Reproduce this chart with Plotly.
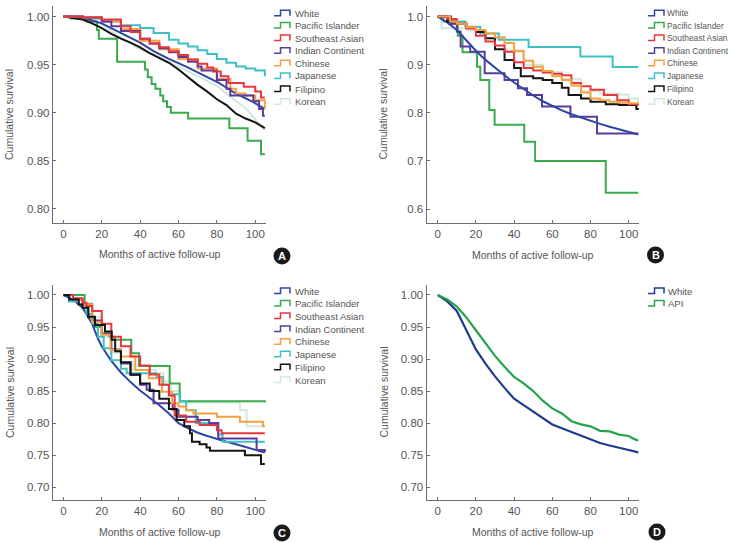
import plotly.graph_objects as go

W, H = 730, 543
FONT = "Liberation Sans, Arial, sans-serif"
GRAY = "#555555"

# ---------------- colours ----------------
C_WHITE = "#2f45a3"
C_PACIFIC = "#3aab4c"
C_SEASIAN = "#e8363f"
C_INDIAN = "#5a3c9f"
C_CHINESE = "#f6a040"
C_JAPANESE = "#3ec0c6"
C_FILIPINO = "#141414"
C_KOREAN = "#cfe9dd"
C_WHITE_D = "#1e3c8e"
C_API = "#25a24e"

LABELS_ETH = ["White", "Pacific Islander", "Southeast Asian", "Indian Continent",
              "Chinese", "Japanese", "Filipino", "Korean"]
LABELS_D = ["White", "API"]
X_TICKS = [0, 20, 40, 60, 80, 100]
A_YTICKS = [0.80, 0.85, 0.90, 0.95, 1.00]
B_YTICKS = [0.6, 0.7, 0.8, 0.9, 1.0]
CD_YTICKS = [0.70, 0.75, 0.80, 0.85, 0.90, 0.95, 1.00]

# ---------------- Panel A ----------------
A_white_m = [0, 10, 20, 30, 40, 47, 55, 64, 70, 75, 81, 85, 90, 95, 99, 105]
A_white_v = [1.0, 0.999, 0.993, 0.983, 0.973, 0.964, 0.956, 0.948, 0.942, 0.937, 0.931, 0.926, 0.920, 0.915, 0.911, 0.904]
A_pacific_m = [0, 4, 12, 17.5, 18.5, 28, 41, 42.5, 44, 46, 48, 50.5, 52, 54, 56, 65, 86.5, 96, 103, 105]
A_pacific_v = [1.0, 0.998, 0.995, 0.986, 0.977, 0.953, 0.953, 0.945, 0.937, 0.930, 0.925, 0.918, 0.912, 0.906, 0.900, 0.894, 0.884, 0.871, 0.857, 0.857]
A_seasian_m = [0, 10, 20, 30, 35, 40, 45, 50, 55, 60, 65, 70, 75, 78, 82, 86, 94, 100, 103, 105]
A_seasian_v = [1.0, 0.999, 0.997, 0.990, 0.984, 0.977, 0.972, 0.968, 0.964, 0.960, 0.955, 0.951, 0.947, 0.943, 0.938, 0.931, 0.927, 0.922, 0.916, 0.916]
A_indian_m = [0, 10, 20, 25, 30, 40, 45, 50, 55, 60, 65, 70, 72, 80, 85, 87, 95, 99, 102, 104, 105]
A_indian_v = [1.0, 0.999, 0.995, 0.990, 0.985, 0.977, 0.972, 0.967, 0.963, 0.958, 0.953, 0.948, 0.944, 0.934, 0.925, 0.918, 0.918, 0.912, 0.904, 0.897, 0.897]
A_chinese_m = [0, 10, 20, 30, 40, 50, 60, 70, 80, 87, 90, 95, 100, 105]
A_chinese_v = [1.0, 0.999, 0.995, 0.987, 0.975, 0.966, 0.956, 0.946, 0.935, 0.925, 0.920, 0.918, 0.913, 0.904]
A_japanese_m = [0, 10, 20, 30, 40, 47, 55, 60, 65, 70, 75, 80, 85, 90, 95, 100, 105]
A_japanese_v = [1.0, 0.998, 0.995, 0.991, 0.988, 0.983, 0.976, 0.972, 0.969, 0.965, 0.961, 0.956, 0.952, 0.948, 0.946, 0.944, 0.938]
A_filipino_m = [0, 10, 15, 20, 25, 30, 35, 40, 45, 50, 55, 60, 65, 70, 75, 80, 85, 90, 95, 100, 105]
A_filipino_v = [1.0, 0.997, 0.993, 0.988, 0.982, 0.977, 0.973, 0.968, 0.962, 0.957, 0.952, 0.945, 0.937, 0.929, 0.922, 0.914, 0.908, 0.899, 0.894, 0.890, 0.884]
A_korean_m = [0, 10, 20, 30, 40, 50, 60, 70, 80, 90, 95, 100, 105]
A_korean_v = [1.0, 0.998, 0.992, 0.978, 0.966, 0.958, 0.948, 0.938, 0.928, 0.912, 0.905, 0.893, 0.882]

# ---------------- Panel B ----------------
B_white_m = [0, 5, 10, 15, 20, 25, 30, 35, 40, 45, 50, 55, 60, 65, 70, 75, 80, 85, 90, 95, 100, 105]
B_white_v = [1.0, 0.988, 0.972, 0.950, 0.929, 0.910, 0.893, 0.878, 0.863, 0.849, 0.836, 0.824, 0.814, 0.805, 0.797, 0.790, 0.784, 0.777, 0.771, 0.766, 0.761, 0.755]
B_pacific_m = [0, 6, 10.5, 13, 20.6, 22.3, 27, 29.8, 45.3, 51, 88, 105]
B_pacific_v = [1.0, 0.985, 0.960, 0.926, 0.896, 0.868, 0.806, 0.775, 0.740, 0.700, 0.634, 0.634]
B_seasian_m = [0, 5, 10, 15, 20, 25, 30, 35, 40, 45, 50, 55, 60, 65, 70, 75, 80, 87, 94, 100, 105]
B_seasian_v = [1.0, 0.995, 0.985, 0.975, 0.960, 0.948, 0.940, 0.927, 0.905, 0.893, 0.888, 0.884, 0.881, 0.878, 0.862, 0.855, 0.848, 0.837, 0.826, 0.818, 0.815]
B_indian_m = [0, 7, 10, 12, 17, 24.6, 35, 42, 46.8, 54.6, 69.5, 83.4, 105]
B_indian_v = [1.0, 0.985, 0.969, 0.938, 0.927, 0.882, 0.868, 0.851, 0.837, 0.813, 0.792, 0.757, 0.757]
B_chinese_m = [0, 6.5, 10, 15, 20, 25, 30, 35, 40, 45, 50, 55, 60, 65, 70, 75, 80, 85, 90, 95, 100, 105]
B_chinese_v = [1.0, 0.990, 0.985, 0.978, 0.972, 0.965, 0.957, 0.945, 0.928, 0.908, 0.896, 0.887, 0.876, 0.868, 0.857, 0.842, 0.830, 0.826, 0.823, 0.821, 0.820, 0.820]
B_japanese_m = [0, 3, 14.5, 22.3, 32, 47.6, 74.7, 91.6, 105]
B_japanese_v = [1.0, 0.990, 0.979, 0.965, 0.952, 0.937, 0.917, 0.895, 0.895]
B_filipino_m = [0, 5, 10, 15, 20, 25, 30, 35, 40, 43.5, 50, 55, 60, 65, 68.5, 75, 80, 88, 95, 104, 105]
B_filipino_v = [1.0, 0.990, 0.985, 0.977, 0.968, 0.955, 0.932, 0.910, 0.893, 0.876, 0.872, 0.868, 0.862, 0.852, 0.837, 0.830, 0.823, 0.818, 0.816, 0.808, 0.807]
B_korean_m = [0, 2, 15, 25, 35, 45, 55, 65, 75, 85, 95, 100, 105]
B_korean_v = [1.0, 0.976, 0.972, 0.955, 0.930, 0.900, 0.885, 0.870, 0.845, 0.840, 0.838, 0.830, 0.815]

# ---------------- Panel C ----------------
C_white_m = [0, 5, 10, 13, 15, 18, 20, 23, 25, 30, 35, 40, 45, 50, 55, 60, 65, 70, 75, 80, 85, 90, 95, 100, 105]
C_white_v = [1.0, 0.993, 0.980, 0.965, 0.955, 0.932, 0.920, 0.906, 0.897, 0.879, 0.864, 0.851, 0.840, 0.828, 0.815, 0.800, 0.792, 0.785, 0.780, 0.775, 0.771, 0.767, 0.763, 0.759, 0.754]
C_pacific_m = [0, 11.1, 13, 16, 20, 24, 26.8, 35.4, 39.4, 55.4, 60.6, 105]
C_pacific_v = [1.0, 0.985, 0.965, 0.950, 0.940, 0.935, 0.930, 0.909, 0.889, 0.862, 0.834, 0.832]
C_seasian_m = [0, 5, 10, 12, 15, 20, 25, 30, 35, 40, 45, 50, 55, 58, 64, 71, 80, 82.5, 105]
C_seasian_v = [1.0, 0.995, 0.988, 0.983, 0.975, 0.955, 0.935, 0.920, 0.904, 0.890, 0.876, 0.860, 0.843, 0.812, 0.802, 0.797, 0.789, 0.784, 0.784]
C_indian_m = [0, 5, 10, 15, 20, 25, 30, 35, 40, 43.4, 47, 57, 60, 70, 76, 80.7, 100.7, 105]
C_indian_v = [1.0, 0.993, 0.985, 0.960, 0.940, 0.915, 0.893, 0.875, 0.860, 0.852, 0.831, 0.821, 0.810, 0.805, 0.800, 0.776, 0.758, 0.755]
C_chinese_m = [0, 5, 10, 15, 20, 24.6, 30, 37.5, 44.5, 51.4, 56.6, 60, 64, 67.7, 80, 92, 104, 105]
C_chinese_v = [1.0, 0.993, 0.985, 0.958, 0.938, 0.914, 0.904, 0.883, 0.870, 0.849, 0.831, 0.826, 0.820, 0.815, 0.810, 0.802, 0.795, 0.795]
C_japanese_m = [0, 3, 8, 12, 15, 18, 21, 25, 30, 33, 48.5, 52, 55, 60.8, 64, 69, 80.7, 83, 105]
C_japanese_v = [1.0, 0.990, 0.985, 0.970, 0.955, 0.935, 0.917, 0.898, 0.885, 0.878, 0.872, 0.860, 0.845, 0.834, 0.820, 0.800, 0.782, 0.771, 0.771]
C_filipino_m = [0, 3, 8, 10, 13, 16.5, 21.7, 25.2, 27, 30, 35, 40, 45, 50, 55, 59, 63, 66, 67, 71, 74.6, 76.4, 94.6, 103, 105]
C_filipino_v = [1.0, 0.993, 0.985, 0.980, 0.966, 0.953, 0.943, 0.930, 0.912, 0.895, 0.876, 0.862, 0.850, 0.838, 0.822, 0.805, 0.795, 0.784, 0.771, 0.767, 0.762, 0.757, 0.750, 0.736, 0.736]
C_korean_m = [0, 5, 10, 15, 20, 25, 30, 36.5, 48, 52, 56, 60.8, 92, 95.5, 105]
C_korean_v = [1.0, 0.995, 0.988, 0.965, 0.935, 0.910, 0.895, 0.883, 0.878, 0.865, 0.850, 0.832, 0.820, 0.795, 0.795]

# ---------------- Panel D ----------------
D_months = [0, 5, 10, 15, 20, 25, 30, 35, 40, 45, 50, 55, 60, 65, 70, 75, 80, 85, 90, 95, 100, 103, 105]
D_white_v = [1.0, 0.990, 0.975, 0.945, 0.915, 0.893, 0.873, 0.855, 0.838, 0.828, 0.818, 0.808, 0.798, 0.792, 0.786, 0.780, 0.774, 0.769, 0.765, 0.761, 0.758, 0.756, 0.754]
D_api_v = [1.0, 0.993, 0.982, 0.965, 0.945, 0.925, 0.905, 0.888, 0.872, 0.862, 0.850, 0.835, 0.823, 0.815, 0.803, 0.798, 0.795, 0.788, 0.787, 0.782, 0.780, 0.775, 0.773]

# ---------------- layout helpers (pixel -> paper) ----------------
def px(x):
    return x / W

def py(y):
    return 1 - y / H

panels = {
    "A": dict(x=(53, 266), y=(6, 223), xr=[-5.4, 105.6], yr=[0.7854, 1.011], yt=A_YTICKS, fmt=".2f"),
    "B": dict(x=(426.7, 639), y=(6, 223), xr=[-5.76, 105.4], yr=[0.571, 1.022], yt=B_YTICKS, fmt=".1f"),
    "C": dict(x=(53, 266), y=(285, 500), xr=[-5.4, 105.6], yr=[0.680, 1.0156], yt=CD_YTICKS, fmt=".2f"),
    "D": dict(x=(426.7, 639), y=(285, 500), xr=[-5.76, 105.4], yr=[0.680, 1.0156], yt=CD_YTICKS, fmt=".2f"),
}
axis_ids = {"A": ("x", "y"), "B": ("x2", "y2"), "C": ("x3", "y3"), "D": ("x4", "y4")}

fig = go.Figure()

def add_curve(panel, months, values, color, name, shape="hv", width=2.0):
    xa, ya = axis_ids[panel]
    fig.add_trace(go.Scatter(x=months, y=values, mode="lines", name=name,
                             line=dict(color=color, width=width, shape=shape),
                             xaxis=xa, yaxis=ya, showlegend=False))

eth_colors = [C_WHITE, C_PACIFIC, C_SEASIAN, C_INDIAN, C_CHINESE, C_JAPANESE, C_FILIPINO, C_KOREAN]

# Panel A (Korean first so it sits underneath)
add_curve("A", A_korean_m, A_korean_v, C_KOREAN, "Korean", "linear")
add_curve("A", A_pacific_m, A_pacific_v, C_PACIFIC, "Pacific Islander")
add_curve("A", A_japanese_m, A_japanese_v, C_JAPANESE, "Japanese")
add_curve("A", A_filipino_m, A_filipino_v, C_FILIPINO, "Filipino", "linear")
add_curve("A", A_white_m, A_white_v, C_WHITE, "White", "linear")
add_curve("A", A_chinese_m, A_chinese_v, C_CHINESE, "Chinese")
add_curve("A", A_indian_m, A_indian_v, C_INDIAN, "Indian Continent")
add_curve("A", A_seasian_m, A_seasian_v, C_SEASIAN, "Southeast Asian")

# Panel B
add_curve("B", B_korean_m, B_korean_v, C_KOREAN, "Korean")
add_curve("B", B_pacific_m, B_pacific_v, C_PACIFIC, "Pacific Islander")
add_curve("B", B_japanese_m, B_japanese_v, C_JAPANESE, "Japanese")
add_curve("B", B_indian_m, B_indian_v, C_INDIAN, "Indian Continent")
add_curve("B", B_white_m, B_white_v, C_WHITE, "White", "linear")
add_curve("B", B_filipino_m, B_filipino_v, C_FILIPINO, "Filipino")
add_curve("B", B_seasian_m, B_seasian_v, C_SEASIAN, "Southeast Asian")
add_curve("B", B_chinese_m, B_chinese_v, C_CHINESE, "Chinese")

# Panel C
add_curve("C", C_korean_m, C_korean_v, C_KOREAN, "Korean")
add_curve("C", C_pacific_m, C_pacific_v, C_PACIFIC, "Pacific Islander")
add_curve("C", C_white_m, C_white_v, C_WHITE, "White", "linear")
add_curve("C", C_japanese_m, C_japanese_v, C_JAPANESE, "Japanese")
add_curve("C", C_indian_m, C_indian_v, C_INDIAN, "Indian Continent")
add_curve("C", C_chinese_m, C_chinese_v, C_CHINESE, "Chinese")
add_curve("C", C_seasian_m, C_seasian_v, C_SEASIAN, "Southeast Asian")
add_curve("C", C_filipino_m, C_filipino_v, C_FILIPINO, "Filipino")

# Panel D
add_curve("D", D_months, D_white_v, C_WHITE_D, "White", "linear", 2.2)
add_curve("D", D_months, D_api_v, C_API, "API", "linear", 2.2)

layout = dict(width=W, height=H, autosize=False, margin=dict(l=0, r=0, t=0, b=0),
              paper_bgcolor="white", plot_bgcolor="white", showlegend=False,
              font=dict(family=FONT, color=GRAY, size=12))

for key, p in panels.items():
    xa, ya = axis_ids[key]
    xname = "xaxis" if xa == "x" else "xaxis" + xa[1:]
    yname = "yaxis" if ya == "y" else "yaxis" + ya[1:]
    common = dict(showline=True, linecolor="#6e6e6e", linewidth=1.4, showgrid=False, zeroline=False,
                  ticks="inside", ticklen=3, tickcolor="#6e6e6e", tickwidth=1.2,
                  tickfont=dict(family=FONT, size=11.5, color=GRAY), fixedrange=True)
    layout[xname] = dict(domain=[px(p["x"][0]), px(p["x"][1])], range=p["xr"], anchor=ya,
                         tickvals=X_TICKS, **common)
    layout[yname] = dict(domain=[py(p["y"][1]), py(p["y"][0])], range=p["yr"], anchor=xa,
                         tickvals=p["yt"], tickformat=p["fmt"], **common)

fig.update_layout(**layout)

annotations = []
shapes = []

# axis titles
title_pos = {"A": (9.5, 114.5, 159.5, 254), "B": (383, 114.5, 533, 255),
             "C": (9.5, 392.5, 159.5, 532), "D": (383, 392.5, 533, 532)}
for key, (yx, yy, xx, xy) in title_pos.items():
    annotations.append(dict(text="Cumulative survival", x=px(yx), y=py(yy), xref="paper", yref="paper",
                            textangle=-90, showarrow=False, xanchor="center", yanchor="middle",
                            font=dict(family=FONT, size=10.5, color=GRAY)))
    annotations.append(dict(text="Months of active follow-up", x=px(xx), y=py(xy), xref="paper", yref="paper",
                            showarrow=False, xanchor="center", yanchor="middle",
                            font=dict(family=FONT, size=10.5, color=GRAY)))

# panel badges
badges = {"A": (282, 256), "B": (655.5, 255), "C": (282, 533), "D": (657, 532)}
R = 8.5
for key, (cx, cy) in badges.items():
    shapes.append(dict(type="circle", xref="paper", yref="paper",
                       x0=px(cx - R), x1=px(cx + R), y0=py(cy + R), y1=py(cy - R),
                       fillcolor="#1a1a1a", line=dict(width=0)))
    annotations.append(dict(text="<b>%s</b>" % key, x=px(cx), y=py(cy), xref="paper", yref="paper",
                            showarrow=False, xanchor="center", yanchor="middle",
                            font=dict(family=FONT, size=11, color="white")))

# legends (step-shaped icons)
def legend(x_icon, x_text, rows, labels, colors, size):
    for ry, lab, col in zip(rows, labels, colors):
        yl, yh = ry + 2.5, ry - 3
        path = "M {a},{b} L {c},{b} L {c},{d} L {e},{d} L {e},{b}".format(
            a=px(x_icon), b=py(yl), c=px(x_icon + 6.5), d=py(yh), e=px(x_icon + 16))
        shapes.append(dict(type="path", xref="paper", yref="paper", path=path,
                           line=dict(color=col, width=1.5)))
        annotations.append(dict(text=lab, x=px(x_text), y=py(ry), xref="paper", yref="paper",
                                showarrow=False, xanchor="left", yanchor="middle",
                                font=dict(family=FONT, size=size, color=GRAY)))

rows_top = [13.3, 25.5, 38, 50.7, 63.3, 76, 89, 101.7]
rows_bot = [291, 303.5, 316, 329, 341.7, 354.3, 367.3, 380]
legend(274, 292.5, rows_top, LABELS_ETH, eth_colors, 9.5)
legend(648, 664.5, rows_top, LABELS_ETH, eth_colors, 8.4)
legend(274, 292.5, rows_bot, LABELS_ETH, eth_colors, 9.5)
legend(648, 665.5, rows_bot[:2], LABELS_D, [C_WHITE_D, C_API], 9.5)

fig.update_layout(annotations=annotations, shapes=shapes)
fig.write_html("out.html")
